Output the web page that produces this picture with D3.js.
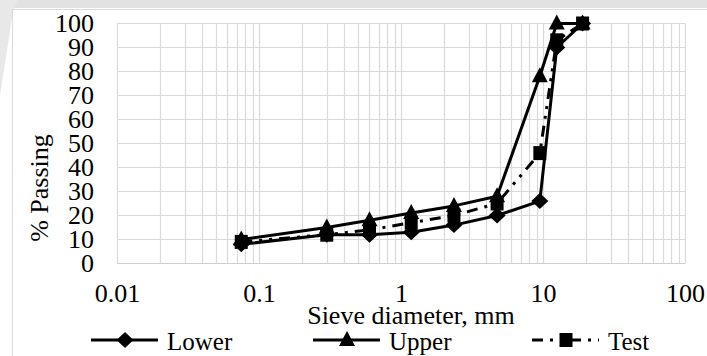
<!DOCTYPE html>
<html>
<head>
<meta charset="utf-8">
<script src="https://cdn.jsdelivr.net/npm/d3@7"></script>
<style>
  body { margin: 0; background: #fff; }
  text { font-family: "Liberation Serif", "Times New Roman", serif; fill: #000; }
</style>
</head>
<body>
<div class="chart-container"></div>
<script>
// Data
const sieveSizes = [0.075, 0.3, 0.6, 1.18, 2.36, 4.75, 9.5, 12.5, 19];
const lowerValues = [8, 12, 12, 13, 16, 20, 26, 90, 100];
const upperValues = [10, 15, 18, 21, 24, 28, 78, 100, 100];
const testValues = [9, 12, 14, 17, 20, 25, 46, 93, 100];
const xTickLabels = [0.01, 0.1, 1, 10, 100];
const yTickLabels = [0, 10, 20, 30, 40, 50, 60, 70, 80, 90, 100];

const series = [
    {name: 'Lower', values: lowerValues, marker: 'diamond', dash: null},
    {name: 'Upper', values: upperValues, marker: 'triangle', dash: null},
    {name: 'Test', values: testValues, marker: 'square', dash: '11,7,3,7,3,7'}
];

const FONT = '"Liberation Serif", "Times New Roman", serif';
const svg_width = 707;
const svg_height = 356;
const plot = {left: 117, right: 685, top: 23.5, bottom: 263.5};

const svg = d3.select('.chart-container').append('svg')
    .attr('width', svg_width).attr('height', svg_height);

// faint background bits (frame + watermark)
svg.append('rect').attr('x', 0).attr('y', 0).attr('width', svg_width).attr('height', 8)
    .style('fill', '#e2e2e2');
svg.append('path').attr('d', 'M0,0 L18,0 L13,12 L0,95 Z').style('fill', '#e8e8e8');
svg.append('path').attr('d', 'M12.5,356 L12.5,9.5 L707,9.5')
    .style('fill', 'none').style('stroke', '#d9d9d9');

// scales
const xScale = d3.scaleLog().domain([0.01, 100]).range([plot.left, plot.right]);
const yScale = d3.scaleLinear().domain([0, 100]).range([plot.bottom, plot.top]);

// grid
const grid = svg.append('g').attr('class', 'grid');
grid.selectAll('.vgrid').data(xScale.ticks()).join('line').attr('class', 'vgrid')
    .attr('x1', d => Math.round(xScale(d)) + 0.5).attr('x2', d => Math.round(xScale(d)) + 0.5)
    .attr('y1', plot.top).attr('y2', plot.bottom)
    .style('stroke', '#d9d9d9').style('stroke-width', 1.2);
grid.selectAll('.hgrid').data(yTickLabels).join('line').attr('class', 'hgrid')
    .attr('x1', plot.left).attr('x2', plot.right)
    .attr('y1', d => yScale(d)).attr('y2', d => yScale(d))
    .style('stroke', d => d === 0 ? '#cfcfcf' : '#d9d9d9').style('stroke-width', 1.2);

// axes (labels only)
const xAxis = d3.axisBottom(xScale).tickValues(xTickLabels)
    .tickFormat(d => String(d)).tickSize(0).tickPadding(20);
const xAxisDraw = svg.append('g').attr('transform', `translate(0,${plot.bottom})`).call(xAxis);
const yAxis = d3.axisLeft(yScale).tickValues(yTickLabels).tickSize(0).tickPadding(23);
const yAxisDraw = svg.append('g').attr('transform', `translate(${plot.left},0)`).call(yAxis);
[xAxisDraw, yAxisDraw].forEach(a => {
    a.select('.domain').remove();
    a.attr('font-family', FONT).attr('font-size', 26);
    a.selectAll('text').style('font-size', '26px')
        .style('font-family', FONT).attr('fill', '#000');
});

// titles
svg.append('text').attr('x', 411).attr('y', 324).attr('text-anchor', 'middle')
    .style('font-family', FONT).style('font-size', '26px').text('Sieve diameter, mm');
svg.append('text').attr('transform', 'translate(48,188) rotate(-90)').attr('text-anchor', 'middle')
    .style('font-family', FONT).style('font-size', '26px').text('% Passing');

// markers
function markerPath(type){
    if (type === 'diamond') return 'M0,-8 L8.5,0 L0,8 L-8.5,0 Z';
    if (type === 'triangle') return 'M0,-9 L8,6 L-8,6 Z';
    return 'M-6.5,-7 L6.5,-7 L6.5,7 L-6.5,7 Z';
}

const line = d3.line().x(d => xScale(d[0])).y(d => yScale(d[1]));
const lines = svg.append('g').attr('class', 'series');

series.forEach(s => {
    const pts = sieveSizes.map((x, i) => [x, s.values[i]]);
    const g = lines.append('g');
    g.append('path').datum(pts).attr('d', line)
        .style('fill', 'none').style('stroke', '#000').style('stroke-width', 3)
        .style('stroke-linejoin', 'round')
        .style('stroke-dasharray', s.dash);
    g.selectAll('.mark').data(pts).join('path').attr('class', 'mark')
        .attr('transform', d => `translate(${xScale(d[0])},${yScale(d[1])})`)
        .attr('d', markerPath(s.marker)).style('fill', '#000');
});

// legend
const legendX = [91, 313, 532];
const legendY = 340;
const legend = svg.append('g').attr('class', 'legend');
series.forEach((s, i) => {
    const x0 = legendX[i];
    const g = legend.append('g').attr('transform', `translate(${x0},${legendY})`);
    g.append('line').attr('x1', 0).attr('x2', 67).attr('y1', 0).attr('y2', 0)
        .style('stroke', '#000').style('stroke-width', 3)
        .style('stroke-dasharray', s.dash);
    g.append('path').attr('transform', 'translate(34,0)').attr('d', markerPath(s.marker))
        .style('fill', '#000');
    g.append('text').attr('x', 76).attr('y', 10)
        .style('font-family', FONT).style('font-size', '25px').text(s.name);
});
</script>
</body>
</html>
